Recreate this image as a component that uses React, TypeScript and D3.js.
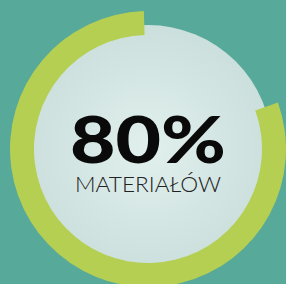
import React, { useEffect, useRef } from 'react';
import * as d3 from 'd3';

const percentValues = [80];
const percentLabels = ['80%'];
const categoryLabels = ['MATERIAŁÓW'];

function App() {
  const ref = useRef<SVGSVGElement>(null);

  useEffect(() => {
    document.body.style.margin = '0';
    const svg = d3.select(ref.current);
    svg.selectAll('*').remove();

    const width = 286;
    const height = 284;
    const cx = 148;
    const cy = 149;
    const outerR = 138;
    const innerR = 114;
    const discR = 124;

    // percent -> angle, the filled part ends at the top (12 o'clock)
    const angle = d3.scaleLinear().domain([0, 100]).range([0, 2 * Math.PI]);
    const offset = -0.03;

    svg.append('rect')
      .attr('width', width)
      .attr('height', height)
      .attr('fill', '#57a99a');

    const defs = svg.append('defs');
    const grad = defs.append('radialGradient')
      .attr('id', 'disc-grad')
      .attr('cx', '50%')
      .attr('cy', '50%')
      .attr('r', '50%');
    grad.append('stop').attr('offset', '0%').attr('stop-color', '#e1f0ed');
    grad.append('stop').attr('offset', '100%').attr('stop-color', '#cbdfdd');

    const g = svg.append('g')
      .attr('transform', 'translate(' + cx + ',' + cy + ')');

    g.append('circle')
      .attr('r', discR)
      .attr('fill', 'url(#disc-grad)');

    const arc = d3.arc<number>()
      .innerRadius(innerR)
      .outerRadius(outerR)
      .startAngle((d) => angle(100 - d) + offset)
      .endAngle(angle(100) + offset);

    g.selectAll('.ring')
      .data(percentValues)
      .enter().append('path')
      .attr('class', 'ring')
      .attr('d', (d) => arc(d) as string)
      .attr('fill', '#b5cf52');

    g.append('text')
      .attr('x', 0)
      .attr('y', 14)
      .attr('text-anchor', 'middle')
      .attr('font-family', 'Lato, "DejaVu Sans", sans-serif')
      .attr('font-weight', 900)
      .attr('font-size', 64)
      .attr('textLength', 156)
      .attr('lengthAdjust', 'spacingAndGlyphs')
      .attr('fill', '#0a0a0a')
      .text(percentLabels[0]);

    g.append('text')
      .attr('x', 0)
      .attr('y', 43)
      .attr('text-anchor', 'middle')
      .attr('font-family', 'Lato, "DejaVu Sans", sans-serif')
      .attr('font-weight', 300)
      .attr('font-size', 21)
      .attr('textLength', 146)
      .attr('lengthAdjust', 'spacingAndGlyphs')
      .attr('fill', '#222')
      .text(categoryLabels[0]);
  }, []);

  return (
    <svg ref={ref} width="286" height="284" style={{ position: 'absolute', left: 0, top: 0 }} />
  );
}

export default App;
